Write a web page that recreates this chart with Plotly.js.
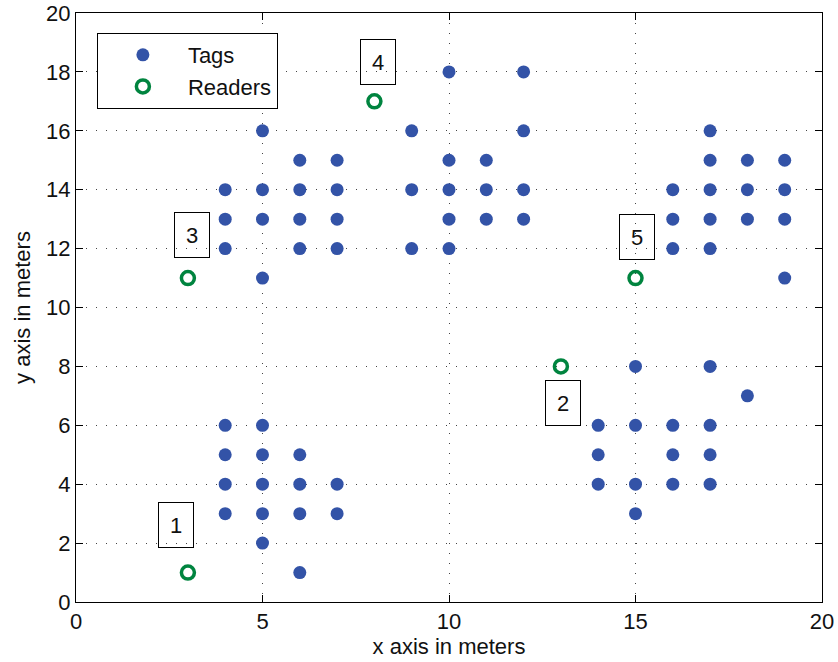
<!DOCTYPE html>
<html>
<head>
<meta charset="utf-8">
<script src="https://cdn.plot.ly/plotly-3.0.1.min.js"></script>
<style>html,body{margin:0;padding:0;background:#fff;}#chart{width:838px;height:662px;}</style>
</head>
<body>
<div id="chart"></div>
<script>
// Tag positions (meters)
const tagX = [
  4,4,4,4, 5,5,5,5,5, 6,6,6,6, 7,7,
  5, 6,7, 4,5,6,7, 4,5,6,7, 4,6,7, 5,
  10,12, 9,12, 10,11, 9,10,11,12, 10,11,12, 9,10,
  17, 17,18,19, 16,17,18,19, 16,17,18,19, 16,17, 19,
  15,17, 18, 14,15,16,17, 14,16,17, 14,15,16,17, 15
];
const tagY = [
  3,4,5,6, 2,3,4,5,6, 1,3,4,5, 3,4,
  16, 15,15, 14,14,14,14, 13,13,13,13, 12,12,12, 11,
  18,18, 16,16, 15,15, 14,14,14,14, 13,13,13, 12,12,
  16, 15,15,15, 14,14,14,14, 13,13,13,13, 12,12, 11,
  8,8, 7, 6,6,6,6, 5,5,5, 4,4,4,4, 3
];
// Reader positions
const readerX = [3, 13, 3, 8, 15];
const readerY = [1, 8, 11, 17, 11];
const readerLabels = ["1", "2", "3", "4", "5"];
const labelX = [2.68, 13.05, 3.1, 8.1, 15.05];
const labelY = [2.61, 6.76, 12.45, 18.33, 12.4];

const xTicks = [0, 5, 10, 15, 20];
const yTicks = [0, 2, 4, 6, 8, 10, 12, 14, 16, 18, 20];

const FONT = "Liberation Sans, Arial, Helvetica, sans-serif";
const FS = 22;

const traces = [
  {
    x: tagX, y: tagY, type: "scatter", mode: "markers", name: "Tags",
    legendgroup: "a",
    marker: {color: "#3353a7", size: 13, line: {width: 0}}
  },
  {
    x: readerX, y: readerY, type: "scatter", mode: "markers", name: "Readers",
    legendgroup: "b",
    marker: {color: "rgba(0,0,0,0)", size: 13, line: {color: "#00843f", width: 3.5}}
  }
];

const annotations = readerLabels.map((t, i) => ({
  x: labelX[i], y: labelY[i], xref: "x", yref: "y",
  text: t, showarrow: false,
  font: {family: FONT, size: FS, color: "#111"},
  width: 34, height: 44,
  bordercolor: "#000", borderwidth: 1, borderpad: 0,
  xanchor: "center", yanchor: "middle"
}));

const axisCommon = {
  showline: true, linecolor: "#000", linewidth: 1, mirror: "ticks",
  ticks: "inside", ticklen: 7, tickcolor: "#000", tickwidth: 1,
  showgrid: true, gridcolor: "#444", gridwidth: 1, griddash: "1px,9px",
  zeroline: false,
  tickfont: {family: FONT, size: FS, color: "#111"}
};

const layout = {
  width: 838, height: 662,
  margin: {l: 76, r: 16, t: 13, b: 60, pad: 0},
  paper_bgcolor: "#fff", plot_bgcolor: "#fff",
  showlegend: true,
  legend: {
    x: 0.028, y: 0.966, xanchor: "left", yanchor: "top",
    bordercolor: "#000", borderwidth: 1, bgcolor: "#fff",
    font: {family: FONT, size: FS, color: "#111"},
    traceorder: "grouped", tracegroupgap: 0,
    itemwidth: 80
  },
  xaxis: Object.assign({}, axisCommon, {
    range: [0, 20], tickvals: xTicks, ticktext: xTicks.map(String),
    title: {text: "x axis in meters", font: {family: FONT, size: FS, color: "#111"}, standoff: 5}
  }),
  yaxis: Object.assign({}, axisCommon, {
    range: [0, 20], tickvals: yTicks, ticktext: yTicks.map(String),
    title: {text: "y axis in meters", font: {family: FONT, size: FS, color: "#111"}, standoff: 9}
  }),
  annotations: annotations
};

Plotly.newPlot("chart", traces, layout, {displayModeBar: false, staticPlot: true});
</script>
</body>
</html>
